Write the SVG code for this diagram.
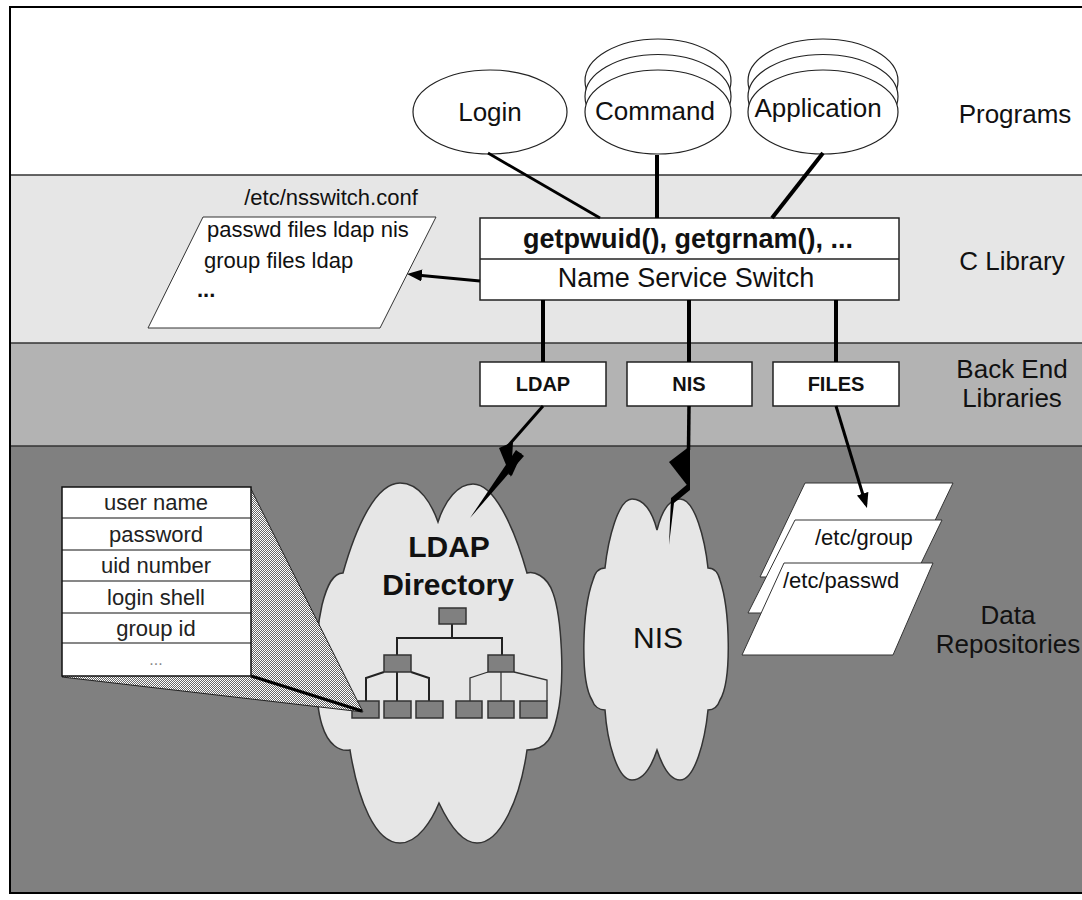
<svg xmlns="http://www.w3.org/2000/svg" width="1082" height="900" viewBox="0 0 1082 900">
<style>
text{font-family:"Liberation Sans",Arial,sans-serif;fill:#111}
.band{font-size:26px;text-anchor:middle}
.prog{font-size:26px;text-anchor:middle}
.ell{fill:#fff;stroke:#222;stroke-width:1.2}
.box{fill:#fff;stroke:#222;stroke-width:1.5}
.be{font-size:20px;font-weight:bold;text-anchor:middle}
.lbl{font-size:22px}
.row{font-size:22px;text-anchor:middle;fill:#222}
.cloud{fill:#e6e6e6;stroke:#333;stroke-width:1.5}
.tb{fill:#808080;stroke:#333;stroke-width:1.5}
.sheet{fill:#fff;stroke:#333;stroke-width:1}
.conn{stroke:#000;fill:none}
.bolt{fill:#000}
.tl{stroke:#222;fill:none;stroke-width:2}
.tl2{stroke:#333;fill:none;stroke-width:1.3}
</style>
<defs>
<marker id="arr" viewBox="0 0 15 12" refX="11" refY="6" markerWidth="15" markerHeight="12" markerUnits="userSpaceOnUse" orient="auto">
<path d="M0,0 L15,6 L0,12 Z" fill="#000"/>
</marker>
<pattern id="stip" width="2" height="2" patternUnits="userSpaceOnUse">
<rect width="2" height="2" fill="#fff"/>
<rect x="1" y="0" width="1" height="1" fill="#666"/>
<rect x="0" y="1" width="1" height="1" fill="#666"/>
</pattern>
</defs>
<rect width="1082" height="900" fill="#fff"/>
<!-- bands -->
<g id="bands">
<rect x="10" y="7" width="1090" height="168" fill="#fff"/>
<rect x="10" y="175" width="1090" height="168" fill="#e6e6e6"/>
<rect x="10" y="343" width="1090" height="103" fill="#b3b3b3"/>
<rect x="10" y="446" width="1090" height="447" fill="#808080"/>
<line x1="10" y1="175" x2="1082" y2="175" stroke="#333" stroke-width="1.5"/>
<line x1="10" y1="343" x2="1082" y2="343" stroke="#333" stroke-width="1.5"/>
<line x1="10" y1="446" x2="1082" y2="446" stroke="#333" stroke-width="1.5"/>
<rect x="10" y="7" width="1090" height="886" fill="none" stroke="#000" stroke-width="2"/>
<text class="band" x="1015" y="123">Programs</text>
<text class="band" x="1012" y="270">C Library</text>
<text class="band" x="1012" y="378">Back End</text>
<text class="band" x="1012" y="407">Libraries</text>
<text class="band" x="1008" y="624">Data</text>
<text class="band" x="1008" y="653">Repositories</text>
</g>
<!-- programs -->
<g id="login">
<ellipse class="ell" cx="490" cy="112" rx="77" ry="42"/>
<text class="prog" x="490" y="121">Login</text>
</g>
<g id="command">
<ellipse class="ell" cx="658" cy="81" rx="73" ry="42"/>
<ellipse class="ell" cx="658" cy="96.5" rx="73" ry="42"/>
<ellipse class="ell" cx="658" cy="112" rx="73" ry="42"/>
<text class="prog" x="655" y="120">Command</text>
</g>
<g id="application">
<ellipse class="ell" cx="823" cy="81" rx="75" ry="42"/>
<ellipse class="ell" cx="823" cy="96.5" rx="75" ry="42"/>
<ellipse class="ell" cx="823" cy="112" rx="75" ry="42"/>
<text class="prog" x="818" y="117">Application</text>
</g>
<!-- C library -->
<g id="nss">
<rect class="box" x="480" y="218" width="419" height="82"/>
<line x1="480" y1="259" x2="899" y2="259" stroke="#222" stroke-width="1.5"/>
<text x="688" y="248" font-size="27" font-weight="bold" text-anchor="middle">getpwuid(), getgrnam(), ...</text>
<text x="686" y="287" font-size="27" text-anchor="middle">Name Service Switch</text>
</g>
<g id="nsswitch-conf">
<text class="lbl" x="331" y="205" text-anchor="middle">/etc/nsswitch.conf</text>
<polygon class="sheet" points="203,217 436,217 380,328 148,328"/>
<text class="lbl" x="207" y="237">passwd files ldap nis</text>
<text class="lbl" x="204" y="268">group files ldap</text>
<text class="lbl" x="197" y="297" font-weight="bold">...</text>
</g>
<!-- back ends -->
<g id="ldap-lib">
<rect class="box" x="480" y="362" width="126" height="44"/>
<text class="be" x="543" y="391">LDAP</text>
</g>
<g id="nis-lib">
<rect class="box" x="627" y="362" width="125" height="44"/>
<text class="be" x="689" y="391">NIS</text>
</g>
<g id="files-lib">
<rect class="box" x="773" y="362" width="126" height="44"/>
<text class="be" x="836" y="391">FILES</text>
</g>
<!-- LDAP directory -->
<g id="ldap-directory">
<path class="cloud" d="M438,522 C445,500 458,484 473,484 C495,484 515,530 527,573 C533,571 547,575 553,593 C561,615 566,680 557,717 C553,735 548,750 527,750 C520,800 500,843 477,843 C460,843 447,820 439,803 C432,820 418,843 400,843 C375,843 358,800 350,750 C340,752 328,745 322,725 C314,700 314,640 322,605 C327,585 333,573 343,573 C355,530 375,483 400,483 C420,483 432,505 438,522 Z"/>
<text x="449" y="557" font-size="30" font-weight="bold" text-anchor="middle">LDAP</text>
<text x="448" y="595" font-size="30" font-weight="bold" text-anchor="middle">Directory</text>
<path class="tl" d="M452,624 V638 M397,655 V638 H502 V655"/>
<path class="tl" d="M384,672 L366,678 V701 M397,672 V701 M411,672 L429,678 V701"/>
<path class="tl2" d="M488,672 L470,678 V701 M501,672 V701 M514,672 L547,680 V701"/>
<rect class="tb" x="439" y="608" width="27" height="16"/>
<rect class="tb" x="384" y="655" width="27" height="17"/>
<rect class="tb" x="488" y="655" width="26" height="17"/>
<rect class="tb" x="352" y="701" width="27" height="17"/>
<rect class="tb" x="384" y="701" width="27" height="17"/>
<rect class="tb" x="416" y="701" width="27" height="17"/>
<rect class="tb" x="456" y="701" width="26" height="17"/>
<rect class="tb" x="488" y="701" width="26" height="17"/>
<rect class="tb" x="520" y="701" width="27" height="17"/>
</g>
<!-- record callout -->
<g id="record">
<polygon points="251,489 363,712 62,677" fill="url(#stip)" stroke="#222" stroke-width="1"/>
<line x1="251" y1="676" x2="362" y2="711" stroke="#000" stroke-width="3"/>
<rect x="62" y="487" width="189" height="189" fill="#fff" stroke="#111" stroke-width="1.5"/>
<path d="M62,518 H251 M62,550 H251 M62,581 H251 M62,613 H251 M62,643 H251" stroke="#111" stroke-width="1.2"/>
<text class="row" x="156" y="510">user name</text>
<text class="row" x="156" y="542">password</text>
<text class="row" x="156" y="573">uid number</text>
<text class="row" x="156" y="605">login shell</text>
<text class="row" x="156" y="636">group id</text>
<text x="156" y="665" font-size="16" text-anchor="middle" style="fill:#888">...</text>
</g>
<!-- NIS -->
<g id="nis-cloud">
<path class="cloud" d="M657,530 C662,510 670,499 680,499 C695,499 705,540 708,568 C714,568 718,572 720,580 C730,610 732,680 720,700 C718,706 714,710 708,710 C705,740 695,780 680,780 C670,780 662,765 657,750 C652,765 644,780 632,780 C617,780 607,740 605,710 C599,710 594,706 592,700 C580,680 582,610 593,580 C595,572 599,568 605,568 C608,540 618,499 632,499 C643,499 652,510 657,530 Z"/>
<text x="658" y="648" font-size="30" text-anchor="middle">NIS</text>
</g>
<!-- files -->
<g id="files-repo">
<polygon class="sheet" points="805,483 953,483 908,577 760,577"/>
<polygon class="sheet" points="795,520 942,520 897,613 748,613"/>
<text class="lbl" x="815" y="545">/etc/group</text>
<polygon class="sheet" points="784,563 933,563 893,655 742,655"/>
<text class="lbl" x="783" y="588">/etc/passwd</text>
</g>
<!-- connectors -->
<g id="connectors">
<line class="conn" x1="488" y1="153" x2="600" y2="218" stroke-width="2.8"/>
<line class="conn" x1="657" y1="155" x2="657" y2="218" stroke-width="4"/>
<line class="conn" x1="823" y1="153" x2="772" y2="218" stroke-width="4"/>
<line class="conn" x1="480" y1="281" x2="411" y2="274.4" stroke-width="3" marker-end="url(#arr)"/>
<line class="conn" x1="543" y1="300" x2="543" y2="362" stroke-width="4"/>
<line class="conn" x1="689" y1="300" x2="689" y2="362" stroke-width="4"/>
<line class="conn" x1="836" y1="300" x2="836" y2="362" stroke-width="4"/>
<line class="conn" x1="836" y1="406" x2="865.8" y2="504.2" stroke-width="3" marker-end="url(#arr)"/>
<g id="ldap-bolt">
<line class="conn" x1="543" y1="406" x2="508" y2="446" stroke-width="3"/>
<polygon class="bolt" points="499,448 513,442 511,477"/>
<line class="conn" x1="510" y1="475" x2="520" y2="453" stroke-width="4"/>
<polygon class="bolt" points="516,450 524,456 470,518"/>
</g>
<g id="nis-bolt">
<line class="conn" x1="689" y1="406" x2="688.5" y2="450" stroke-width="3.5"/>
<polygon class="bolt" points="690,446 669,462 690,489"/>
<polygon class="bolt" points="690,482 690,490 674,503 669,545 671,498"/>
</g>
</g>
</svg>
